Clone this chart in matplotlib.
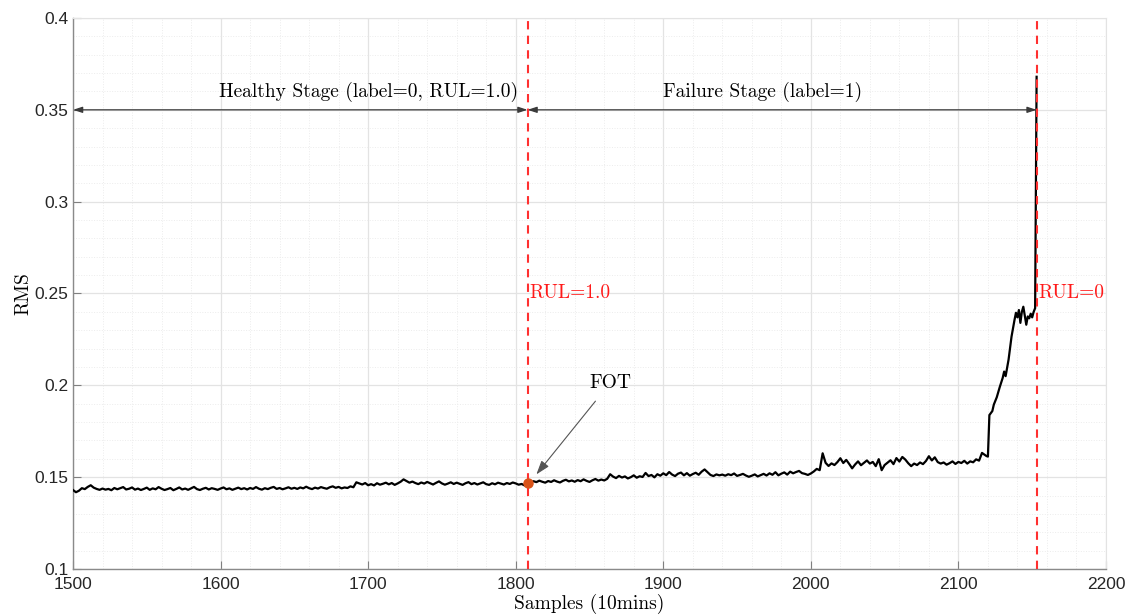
#!/usr/bin/env python3
"""RMS degradation curve with healthy / failure stage annotation."""
import numpy as np
import matplotlib
matplotlib.use("Agg")
import matplotlib.pyplot as plt
from matplotlib.ticker import MultipleLocator

# Computer Modern roman, shipped with matplotlib, looks like MATLAB's latex text
SERIF = ["cmr10", "DejaVu Serif"]

# --- data ------------------------------------------------------------
# baseline, one reading every 2 samples from 1500 to 2116
base_start, base_step = 1500, 2
base_rms = [
    0.1430, 0.1418, 0.1426, 0.1440, 0.1435, 0.1447, 0.1456, 0.1443, 0.1436, 0.1431,  # 1500
    0.1438, 0.1432, 0.1436, 0.1429, 0.1441, 0.1434, 0.1440, 0.1446, 0.1433, 0.1437,  # 1520
    0.1444, 0.1432, 0.1438, 0.1430, 0.1436, 0.1443, 0.1431, 0.1439, 0.1434, 0.1446,  # 1540
    0.1437, 0.1430, 0.1435, 0.1441, 0.1429, 0.1436, 0.1444, 0.1433, 0.1438, 0.1431,  # 1560
    0.1439, 0.1447, 0.1435, 0.1430, 0.1437, 0.1442, 0.1433, 0.1440, 0.1436, 0.1431,  # 1580
    0.1438, 0.1444, 0.1434, 0.1439, 0.1431, 0.1437, 0.1443, 0.1435, 0.1440, 0.1433,  # 1600
    0.1441, 0.1436, 0.1446, 0.1437, 0.1432, 0.1440, 0.1435, 0.1442, 0.1447, 0.1436,  # 1620
    0.1441, 0.1434, 0.1439, 0.1445, 0.1437, 0.1442, 0.1436, 0.1444, 0.1439, 0.1448,  # 1640
    0.1440, 0.1435, 0.1443, 0.1438, 0.1446, 0.1441, 0.1437, 0.1445, 0.1450, 0.1442,  # 1660
    0.1447, 0.1439, 0.1444, 0.1441, 0.1450, 0.1445, 0.1472, 0.1466, 0.1460, 0.1468,  # 1680
    0.1456, 0.1462, 0.1455, 0.1467, 0.1459, 0.1464, 0.1470, 0.1461, 0.1468, 0.1458,  # 1700
    0.1466, 0.1475, 0.1488, 0.1479, 0.1470, 0.1476, 0.1468, 0.1462, 0.1471, 0.1465,  # 1720
    0.1474, 0.1467, 0.1460, 0.1469, 0.1477, 0.1466, 0.1459, 0.1465, 0.1472, 0.1463,  # 1740
    0.1470, 0.1464, 0.1458, 0.1467, 0.1473, 0.1462, 0.1468, 0.1460, 0.1466, 0.1472,  # 1760
    0.1462, 0.1458, 0.1467, 0.1461, 0.1470, 0.1465, 0.1460, 0.1468, 0.1463, 0.1471,  # 1780
    0.1466, 0.1459, 0.1463, 0.1455, 0.1470, 0.1472, 0.1478, 0.1473, 0.1481, 0.1475,  # 1800
    0.1470, 0.1479, 0.1474, 0.1483, 0.1476, 0.1471, 0.1480, 0.1486, 0.1477, 0.1482,  # 1820
    0.1475, 0.1484, 0.1478, 0.1488, 0.1480, 0.1474, 0.1483, 0.1490, 0.1481, 0.1487,  # 1840
    0.1482, 0.1491, 0.1516, 0.1503, 0.1495, 0.1507, 0.1498, 0.1504, 0.1493, 0.1500,  # 1860
    0.1510, 0.1497, 0.1505, 0.1501, 0.1523, 0.1506, 0.1512, 0.1499, 0.1516, 0.1508,  # 1880
    0.1521, 0.1511, 0.1528, 0.1514, 0.1506, 0.1519, 0.1525, 0.1510, 0.1522, 0.1508,  # 1900
    0.1517, 0.1524, 0.1513, 0.1530, 0.1542, 0.1527, 0.1512, 0.1506, 0.1515, 0.1510,  # 1920
    0.1514, 0.1508, 0.1516, 0.1511, 0.1520, 0.1507, 0.1512, 0.1518, 0.1509, 0.1502,  # 1940
    0.1508, 0.1515, 0.1504, 0.1511, 0.1518, 0.1509, 0.1521, 0.1513, 0.1527, 0.1510,  # 1960
    0.1519, 0.1526, 0.1514, 0.1530, 0.1521, 0.1528, 0.1534, 0.1522, 0.1518, 0.1512,  # 1980
    0.1520, 0.1531, 0.1545, 0.1538, 0.1630, 0.1578, 0.1561, 0.1575, 0.1566, 0.1582,  # 2000
    0.1603, 0.1577, 0.1594, 0.1572, 0.1548, 0.1569, 0.1586, 0.1565, 0.1578, 0.1591,  # 2020
    0.1574, 0.1583, 0.1560, 0.1598, 0.1538, 0.1566, 0.1579, 0.1592, 0.1571, 0.1604,  # 2040
    0.1585, 0.1610, 0.1596, 0.1576, 0.1560, 0.1574, 0.1566, 0.1580, 0.1571, 0.1588,  # 2060
    0.1614, 0.1591, 0.1608, 0.1582, 0.1574, 0.1580, 0.1568, 0.1576, 0.1586, 0.1572,  # 2080
    0.1583, 0.1577, 0.1589, 0.1574, 0.1586, 0.1581, 0.1597, 0.1590, 0.1632,          # 2100
]

# final degradation, sample by sample
rise_samples = [2119, 2120, 2121, 2123, 2124, 2126, 2128, 2130, 2131, 2132,
                2134, 2136, 2138, 2139, 2140, 2141, 2142, 2143, 2144, 2145,
                2146, 2147, 2148, 2149, 2150, 2151, 2152, 2153]
rise_rms = [0.1615, 0.1612, 0.1838, 0.1860, 0.1895, 0.1935, 0.1990, 0.2040, 0.2075, 0.2050,
            0.2140, 0.2265, 0.2355, 0.2395, 0.2370, 0.2410, 0.2340, 0.2400, 0.2428, 0.2380,
            0.2330, 0.2375, 0.2365, 0.2390, 0.2370, 0.2400, 0.2420, 0.3680]

fot_sample, fot_rms = 1808, 0.1470
eol_sample = 2153
stage_y = 0.35

x_ticks = [1500, 1600, 1700, 1800, 1900, 2000, 2100, 2200]
y_ticks = [0.1, 0.15, 0.2, 0.25, 0.3, 0.35, 0.4]


def main():
    samples = list(base_start + base_step * np.arange(len(base_rms))) + rise_samples
    rms = base_rms + rise_rms

    fig = plt.figure(figsize=(11.32, 6.16), dpi=100)
    ax = fig.add_axes([0.0645, 0.0763, 0.9125, 0.8945])

    ax.set_xlim(1500, 2200)
    ax.set_ylim(0.1, 0.4)
    ax.set_xticks(x_ticks)
    ax.set_yticks(y_ticks)
    ax.set_yticklabels([f"{v:g}" for v in y_ticks])
    ax.xaxis.set_minor_locator(MultipleLocator(20))
    ax.yaxis.set_minor_locator(MultipleLocator(0.01))
    ax.grid(True, which="major", color="#e3e3e3", lw=0.9)
    ax.grid(True, which="minor", color="#ececec", lw=0.7, ls=":")
    ax.set_axisbelow(True)
    ax.tick_params(which="both", direction="in", labelsize=12.5,
                   labelcolor="#262626", color="#808080")
    ax.tick_params(which="minor", length=0)
    ax.tick_params(which="major", length=6, top=False, right=False)
    ax.tick_params(axis="x", pad=6)
    for lbl in ax.get_xticklabels() + ax.get_yticklabels():
        lbl.set_family(["Liberation Sans", "DejaVu Sans"])
    for side in ("left", "bottom"):
        ax.spines[side].set_color("#8a8a8a")
        ax.spines[side].set_linewidth(1.0)
    for side in ("top", "right"):
        ax.spines[side].set_color("#e3e3e3")

    ax.plot(samples, rms, color="black", lw=1.6, zorder=3)

    for xv in (fot_sample, eol_sample):
        ax.axvline(xv, color="#ff3030", lw=1.5, ls=(0, (4, 3)), zorder=4)

    ax.plot([fot_sample], [fot_rms], "o", color="#D95319", ms=6.5, zorder=5)

    # stage arrows
    arrow = dict(arrowstyle="<|-|>,head_length=0.55,head_width=0.18",
                 color="#3a3a3a", lw=0.9, shrinkA=0, shrinkB=0)
    ax.annotate("", xy=(1500, stage_y), xytext=(fot_sample, stage_y), arrowprops=arrow)
    ax.annotate("", xy=(fot_sample, stage_y), xytext=(eol_sample, stage_y), arrowprops=arrow)
    ax.text(1700, stage_y + 0.004, "Healthy Stage (label=0, RUL=1.0)",
            ha="center", va="bottom", fontsize=14, family=SERIF)
    ax.text(1967, stage_y + 0.004, "Failure Stage (label=1)",
            ha="center", va="bottom", fontsize=14, family=SERIF)

    ax.text(fot_sample + 1, 0.25, "RUL=1.0", color="#ff1a1a",
            ha="left", va="center", fontsize=14, family=SERIF)
    ax.text(eol_sample + 1, 0.25, "RUL=0", color="#ff1a1a",
            ha="left", va="center", fontsize=14, family=SERIF)

    ax.annotate("FOT", xy=(1814, 0.1515), xytext=(1864, 0.2013),
                ha="center", va="center", fontsize=14, family=SERIF,
                arrowprops=dict(arrowstyle="-|>,head_length=0.6,head_width=0.2",
                                color="#555555", lw=0.8, shrinkA=6, shrinkB=0))

    ax.set_xlabel("Samples (10mins)", fontsize=14, labelpad=1, family=SERIF)
    ax.set_ylabel("RMS", fontsize=14, labelpad=1, family=SERIF)

    fig.savefig("out.png", dpi=100)
    plt.close(fig)


if __name__ == "__main__":
    main()
